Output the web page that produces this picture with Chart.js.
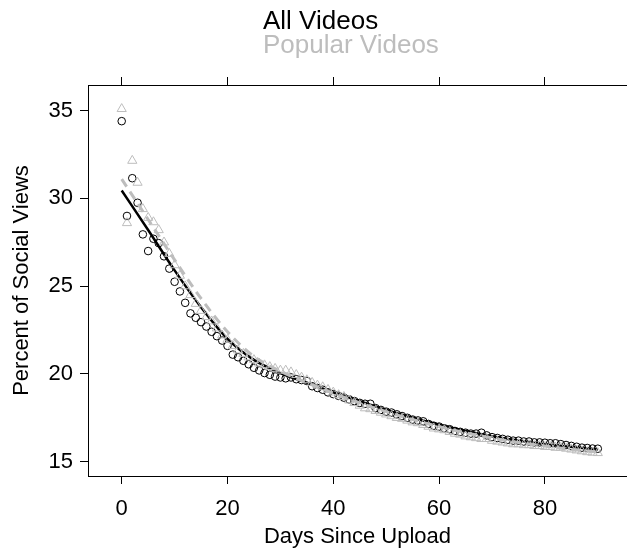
<!DOCTYPE html>
<html>
<head>
<meta charset="utf-8">
<script src="https://cdn.jsdelivr.net/npm/chart.js@4/dist/chart.umd.min.js"></script>
<style>
  body { margin: 0; background: #fff; }
  canvas { display: block; }
</style>
</head>
<body>
<canvas id="socialChart" width="627" height="550"></canvas>
<script>
// days 0..90
const days = [];
for (let d = 0; d <= 90; d++) { days.push(d); }

const allVideos = [
  34.4, 29.0, 31.15, 29.75, 27.95, 27.0, 27.7, 27.45, 26.7, 26.0,
  25.25, 24.7, 24.05, 23.45, 23.2, 22.95, 22.7, 22.4, 22.15, 21.9,
  21.6, 21.1, 20.95, 20.75, 20.55, 20.35, 20.2, 20.05, 19.95, 19.85,
  19.8, 19.75, 19.8, 19.7, 19.65, 19.6, 19.3, 19.2, 19.1, 18.95,
  18.85, 18.75, 18.65, 18.55, 18.45, 18.35, 18.3, 18.3, 18.05, 17.95,
  17.85, 17.8, 17.7, 17.6, 17.5, 17.4, 17.35, 17.3, 17.15, 17.05,
  17.0, 16.9, 16.85, 16.75, 16.7, 16.65, 16.6, 16.6, 16.65, 16.5,
  16.4, 16.35, 16.3, 16.25, 16.2, 16.2, 16.15, 16.15, 16.1, 16.1,
  16.08, 16.05, 16.05, 16.0, 15.95, 15.9, 15.85, 15.8, 15.78, 15.75,
  15.74
];

const popularVideos = [
  35.1, 28.6, 32.15, 30.9, 29.4, 28.9, 28.65, 28.2, 27.5, 26.85,
  26.2, 25.6, 25.0, 24.5, 24.0, 23.6, 23.25, 23.0, 22.6, 22.2,
  21.95, 21.6, 21.35, 21.15, 20.95, 20.8, 20.6, 20.5, 20.4, 20.3,
  20.2, 20.2, 20.1, 19.95, 19.8, 19.65, 19.5, 19.35, 19.25, 19.1,
  18.95, 18.8, 18.7, 18.5, 18.35, 18.2, 18.05, 18.0, 17.9, 17.8,
  17.7, 17.6, 17.5, 17.45, 17.35, 17.25, 17.2, 17.1, 17.0, 16.9,
  16.85, 16.8, 16.7, 16.6, 16.55, 16.45, 16.4, 16.35, 16.3, 16.3,
  16.2, 16.15, 16.1, 16.05, 16.0, 16.0, 15.95, 15.95, 15.9, 15.9,
  15.85, 15.85, 15.8, 15.8, 15.75, 15.7, 15.65, 15.6, 15.55, 15.52,
  15.5
];

// smooth fit lines, read at every 5 days
const fitDays = [0, 5, 10, 15, 20, 25, 30, 35, 40, 45, 50, 55, 60, 65, 70, 75, 80, 85, 90];
const allFit = [30.45, 28.2, 25.9, 23.8, 22.0, 20.8, 20.05, 19.5, 18.95, 18.45, 17.95, 17.5, 17.1, 16.75, 16.45, 16.2, 16.0, 15.85, 15.7];
const popularFit = [31.1, 28.8, 26.5, 24.3, 22.4, 21.0, 20.15, 19.5, 18.9, 18.35, 17.85, 17.4, 17.0, 16.65, 16.35, 16.1, 15.9, 15.7, 15.55];

const xTicks = [0, 20, 40, 60, 80];
const yTicks = [15, 20, 25, 30, 35];

const seriesNames = ['All Videos', 'Popular Videos'];
const black = '#000000';
const grey = '#bdbdbd';
const fontFamily = "'Liberation Sans', Arial, sans-serif";

function toPoints(xs, ys) {
  return xs.map((x, i) => ({ x: x, y: ys[i] }));
}

// key at the top, drawn as two text lines
const keyPlugin = {
  id: 'keyText',
  afterDraw(chart) {
    const ctx = chart.ctx;
    ctx.save();
    ctx.font = '26px ' + fontFamily;
    ctx.textAlign = 'left';
    ctx.textBaseline = 'alphabetic';
    ctx.fillStyle = black;
    ctx.fillText(seriesNames[0], 263, 29);
    ctx.fillStyle = grey;
    ctx.fillText(seriesNames[1], 263, 53);
    ctx.restore();
  }
};

const ctx = document.getElementById('socialChart').getContext('2d');
new Chart(ctx, {
  type: 'scatter',
  data: {
    datasets: [
      {
        label: seriesNames[1] + ' fit',
        type: 'line',
        data: toPoints(fitDays, popularFit),
        borderColor: grey,
        borderWidth: 3,
        borderDash: [9, 6],
        pointRadius: 0,
        cubicInterpolationMode: 'monotone',
        fill: false,
        order: 1
      },
      {
        label: seriesNames[1],
        data: toPoints(days, popularVideos),
        pointStyle: 'triangle',
        pointRadius: 5.3,
        borderWidth: 1,
        borderColor: grey,
        backgroundColor: 'rgba(0,0,0,0)',
        order: 2
      },
      {
        label: seriesNames[0] + ' fit',
        type: 'line',
        data: toPoints(fitDays, allFit),
        borderColor: black,
        borderWidth: 2.5,
        pointRadius: 0,
        cubicInterpolationMode: 'monotone',
        fill: false,
        order: 3
      },
      {
        label: seriesNames[0],
        data: toPoints(days, allVideos),
        pointStyle: 'circle',
        pointRadius: 3.8,
        borderWidth: 1,
        borderColor: black,
        backgroundColor: 'rgba(0,0,0,0)',
        order: 4
      }
    ]
  },
  options: {
    responsive: false,
    animation: false,
    layout: { padding: 0, autoPadding: false },
    plugins: {
      legend: { display: false },
      title: { display: false },
      tooltip: { enabled: false }
    },
    scales: {
      x: {
        type: 'linear',
        position: 'bottom',
        min: -6.37,
        max: 95.52,
        afterBuildTicks: (scale) => { scale.ticks = xTicks.map(v => ({ value: v })); },
        afterFit: (scale) => { scale.height = 74; },
        grid: { display: true, drawOnChartArea: false, drawTicks: true, tickLength: 8, color: black },
        border: { display: true, color: black, width: 1 },
        ticks: { color: black, padding: 12, maxRotation: 0, font: { family: fontFamily, size: 22 } },
        title: {
          display: true,
          text: 'Days Since Upload',
          color: black,
          padding: { top: 0, bottom: 0 },
          font: { family: fontFamily, size: 22 }
        }
      },
      x2: {
        type: 'linear',
        position: 'top',
        min: -6.37,
        max: 95.52,
        afterBuildTicks: (scale) => { scale.ticks = xTicks.map(v => ({ value: v })); },
        afterFit: (scale) => { scale.height = 85; },
        grid: { display: true, drawOnChartArea: false, drawTicks: true, tickLength: 8, color: black },
        border: { display: true, color: black, width: 1 },
        ticks: { display: false }
      },
      y: {
        type: 'linear',
        position: 'left',
        min: 14.185,
        max: 36.46,
        afterBuildTicks: (scale) => { scale.ticks = yTicks.map(v => ({ value: v })); },
        afterFit: (scale) => { scale.width = 88; },
        grid: { display: true, drawOnChartArea: false, drawTicks: true, tickLength: 8, color: black },
        border: { display: true, color: black, width: 1 },
        ticks: { color: black, padding: 7, font: { family: fontFamily, size: 22 } },
        title: {
          display: true,
          text: 'Percent of Social Views',
          color: black,
          padding: { top: 9, bottom: 0 },
          font: { family: fontFamily, size: 22 }
        }
      }
    }
  },
  plugins: [keyPlugin]
});
</script>
</body>
</html>
